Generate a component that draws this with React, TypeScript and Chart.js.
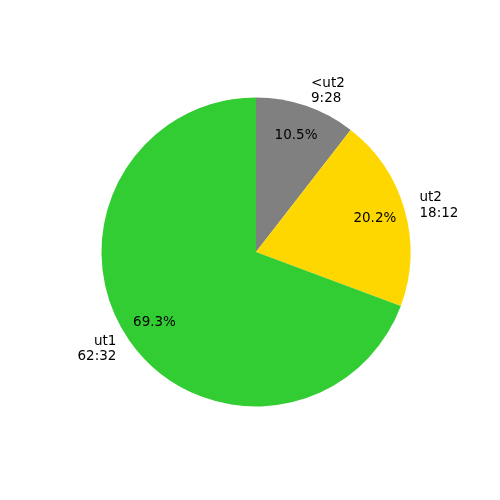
import React, { useEffect, useRef } from "react";
import { Chart, registerables } from "chart.js";

Chart.register(...registerables);

// Ordered clockwise from 12 o'clock (matplotlib drew them counter-clockwise from the top)
const categories = ["<ut2", "ut2", "ut1"];
const timeLabels = ["9:28", "18:12", "62:32"];
const seconds = [568, 1092, 3752];
const colors = ["#808080", "#FFD700", "#32CD32"];

const labelPlugin = {
  id: "pieLabels",
  afterDraw(chart: any) {
    const ctx = chart.ctx;
    const meta = chart.getDatasetMeta(0);
    const total = seconds.reduce((a, b) => a + b, 0);
    ctx.save();
    ctx.fillStyle = "#000";
    ctx.font = "13.5px 'DejaVu Sans'";
    meta.data.forEach((arc: any, i: number) => {
      const p = arc.getProps(["startAngle", "endAngle", "outerRadius", "x", "y"], true);
      const mid = (p.startAngle + p.endAngle) / 2;
      const c = Math.cos(mid);
      const s = Math.sin(mid);
      // percentage
      const pr = p.outerRadius * 0.8;
      ctx.textAlign = "center";
      ctx.textBaseline = "middle";
      ctx.fillText(((seconds[i] / total) * 100).toFixed(1) + "%", p.x + c * pr, p.y + s * pr);
      // outer label
      const lr = p.outerRadius * 1.1;
      const lx = p.x + c * lr;
      const ly = p.y + s * lr;
      ctx.textAlign = c >= 0 ? "left" : "right";
      const lh = 15.5;
      ctx.fillText(categories[i], lx, ly - lh / 2);
      ctx.fillText(timeLabels[i], lx, ly + lh / 2);
    });
    ctx.restore();
  },
};

export default function App() {
  const ref = useRef<HTMLCanvasElement>(null);
  useEffect(() => {
    const chart = new Chart(ref.current!, {
      type: "pie",
      data: {
        labels: categories,
        datasets: [
          {
            data: seconds,
            backgroundColor: colors,
            borderWidth: 0,
          },
        ],
      },
      options: {
        animation: false,
        responsive: false,
        maintainAspectRatio: false,
        layout: { padding: { left: 101.5, right: 89.5, top: 97.5, bottom: 93.5 } },
        plugins: {
          legend: { display: false },
          tooltip: { enabled: false },
        },
      },
      plugins: [labelPlugin],
    });
    return () => chart.destroy();
  }, []);
  return (
    <div style={{ position: "absolute", left: 0, top: 0, width: 500, height: 500, background: "#fff" }}>
      <canvas ref={ref} width={500} height={500} style={{ width: 500, height: 500 }} />
    </div>
  );
}
